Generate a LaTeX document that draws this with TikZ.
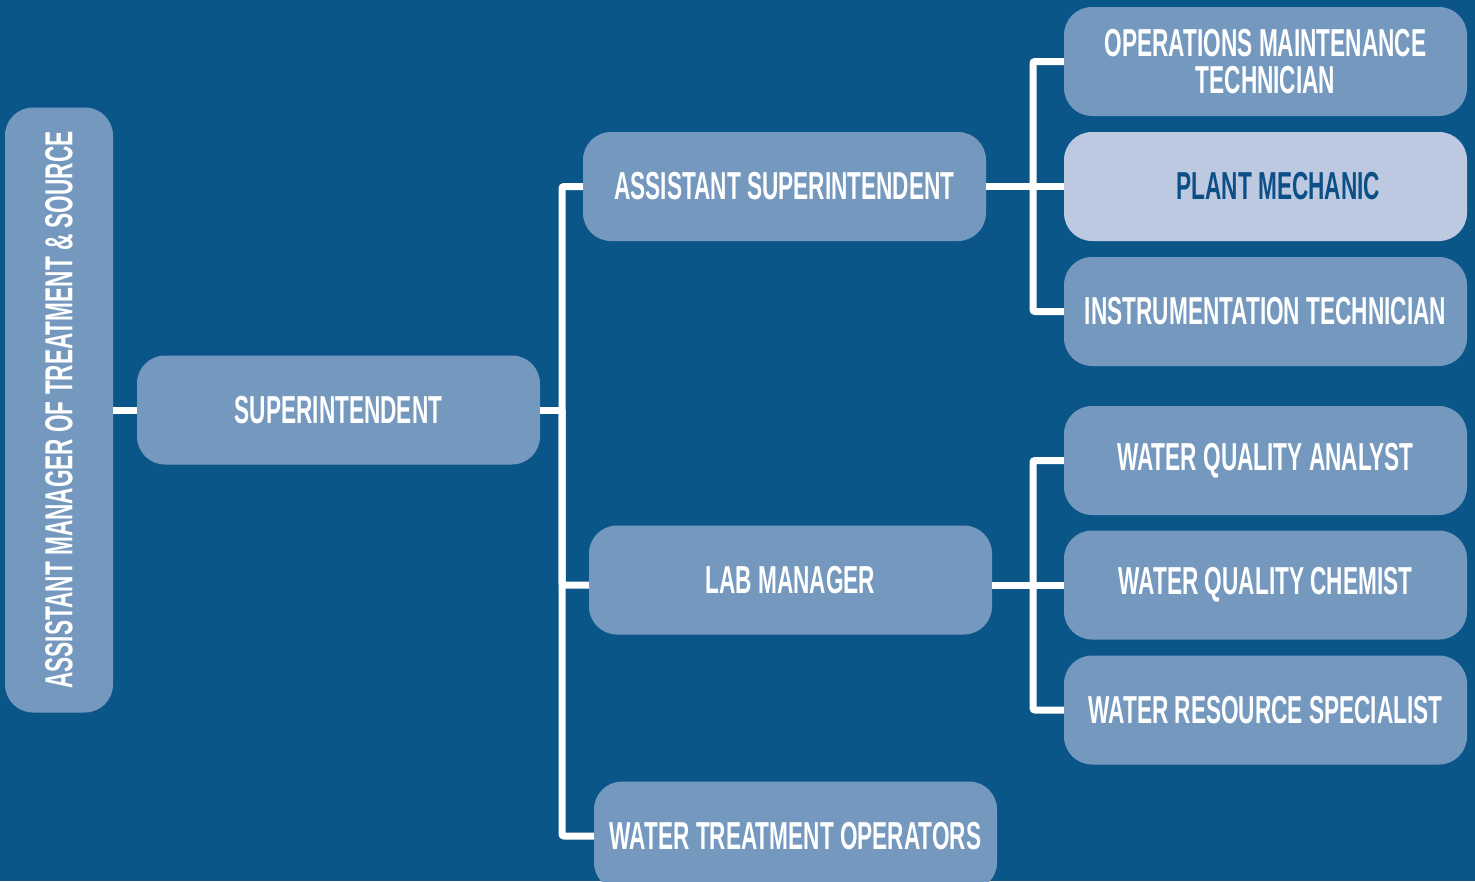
\documentclass[tikz,border=0pt]{standalone}
\usepackage{fontspec}
\newfontfamily\orgfont{Liberation Sans}[FakeStretch=0.58]
\usetikzlibrary{calc}
\definecolor{bgblue}{HTML}{0B5689}
\definecolor{boxblue}{HTML}{7599BE}
\definecolor{paleblue}{HTML}{BCC9E1}
\definecolor{inkblue}{HTML}{0C4F86}

\begin{document}
\begin{tikzpicture}[x=1pt,y=-1pt,
		box/.style={fill=boxblue,rounded corners=28pt,minimum width=403pt,minimum height=109pt,inner sep=0pt,align=center,text=white,font=\orgfont\bfseries\fontsize{39}{37}\selectfont},
		link/.style={draw=white,line width=7pt,rounded corners=2pt}]
		\useasboundingbox (0,0) rectangle (1475,881);
		\clip (0,0) rectangle (1475,881);
		\fill[bgblue] (0,0) rectangle (1475,881);
		% boxes
		\node[box,minimum width=605pt,minimum height=108pt,rotate=90] (lead) at (59,410) {ASSISTANT MANAGER OF TREATMENT \& SOURCE};
		\node[box] (sup) at (338.5,410) {SUPERINTENDENT};
		\node[box] (asst) at (784.5,186.5) {ASSISTANT SUPERINTENDENT};
		\node[box] (lab) at (790.5,580) {LAB MANAGER};
		\node[box] (wto) at (795.5,836) {WATER TREATMENT OPERATORS};
		\node[box] (omt) at (1265.5,61.5) {OPERATIONS MAINTENANCE\\TECHNICIAN};
		\node[box,fill=paleblue,text=inkblue] (pm) at (1265.5,186.5) {\hspace*{26pt}PLANT MECHANIC};
		\node[box] (inst) at (1265.5,311.5) {INSTRUMENTATION TECHNICIAN};
		\node[box] (wqa) at (1265.5,460.5) {WATER QUALITY ANALYST};
		\node[box] (wqc) at (1265.5,585) {WATER QUALITY CHEMIST};
		\node[box] (wrs) at (1265.5,710) {WATER RESOURCE SPECIALIST};
		% forks
		\coordinate (trunk) at (562,410);
		\coordinate (opsfork) at (1033,186.5);
		\coordinate (labfork) at (1033,585);
		% links
		\draw[link] (lead) -- (sup);
		\draw[link] (sup) -- (trunk);
		\draw[link] (asst) -| (trunk);
		\draw[link] (wto) -| (trunk);
		\draw[link] (lab.west |- labfork) -| (trunk);
		\draw[link] (asst) -- (pm);
		\draw[link] (omt) -| (opsfork);
		\draw[link] (inst) -| (opsfork);
		\draw[link] (lab.east |- labfork) -- (wqc);
		\draw[link] (wqa) -| (labfork);
		\draw[link] (wrs) -| (labfork);
	\end{tikzpicture}
\end{document}
